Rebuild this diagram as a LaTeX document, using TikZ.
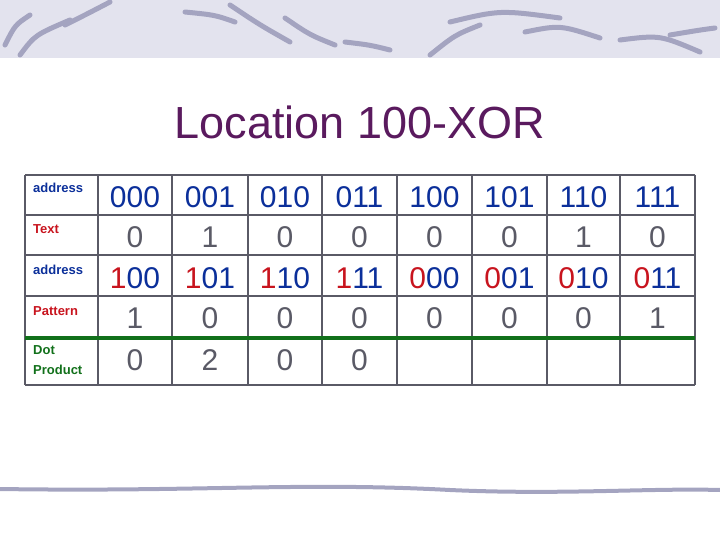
\documentclass[tikz,border=0pt]{standalone}
\usepackage{fontspec}
\setmainfont{Liberation Sans}
\definecolor{band}{HTML}{E3E3EE}
\definecolor{brushc}{HTML}{A4A4C0}
\definecolor{titlec}{HTML}{5A1A5E}
\definecolor{addrc}{HTML}{0B2F9A}
\definecolor{redc}{HTML}{C8141E}
\definecolor{greenc}{HTML}{11701A}
\definecolor{gridc}{HTML}{5A5A66}
\newcommand{\hi}[1]{\textcolor{redc}{#1}}
\begin{document}
\begin{tikzpicture}[x=1pt,y=-1pt,
    label/.style={anchor=north west, font=\fontsize{13}{15}\selectfont\bfseries, inner sep=0pt, align=left},
    cell/.style={font=\fontsize{30}{32}\selectfont, text=gridc, inner sep=0pt},
    brush/.style={draw=brushc, line width=5pt, line cap=round}]
        \useasboundingbox (0,0) rectangle (720,540);

        % Header band and brush strokes
        \fill[band] (0,0) rectangle (720,58);
        \draw[brush] (5,45) .. controls (15,25) .. (30,15);
        \draw[brush] (20,55) .. controls (35,35) .. (70,20);
        \draw[brush] (65,25) .. controls (85,15) .. (110,2);
        \draw[brush] (185,12) .. controls (215,15) .. (235,22);
        \draw[brush] (230,5) .. controls (260,25) .. (290,42);
        \draw[brush] (285,18) .. controls (310,35) .. (335,45);
        \draw[brush] (345,42) .. controls (370,45) .. (390,50);
        \draw[brush] (430,55) .. controls (455,35) .. (480,25);
        \draw[brush] (450,22) .. controls (500,10) .. (560,18);
        \draw[brush] (525,32) .. controls (560,25) .. (600,38);
        \draw[brush] (620,40) .. controls (660,35) .. (700,52);
        \draw[brush] (670,35) .. controls (700,30) .. (715,28);

        % Footer stroke
        \draw[brushc, line width=4pt] (0,489) .. controls (200,492) and (300,482) .. (450,490)
              .. controls (560,495) and (650,488) .. (720,490);

        % Title
        \node[font=\fontsize{45}{50}\selectfont, text=titlec] (title) at (360,122) {Location 100-XOR};

        % Row labels
        \node[label, text=addrc] (l1) at (33,183) {address};
        \node[label, text=redc] (l2) at (33,224) {Text};
        \node[label, text=addrc] (l3) at (33,265) {address};
        \node[label, text=redc] (l4) at (33,306) {Pattern};
        \node[label, text=greenc, font=\fontsize{13}{20}\selectfont\bfseries] (l5) at (33,345) {Dot\\Product};

        % Cells
        \foreach \x [count=\i] in {135,210,285,359.5,434.5,509.5,583.5,657.5}{
            \coordinate (col\i) at (\x,0);
        }
        \foreach \v [count=\i] in {000,001,010,011,100,101,110,111}
            \node[cell, text=addrc] (a\i) at (col\i |- 0,197) {\v};
        \foreach \v [count=\i] in {0,1,0,0,0,0,1,0}
            \node[cell] (t\i) at (col\i |- 0,237) {\v};
        \foreach \v [count=\i] in {\hi{1}00,\hi{1}01,\hi{1}10,\hi{1}11,\hi{0}00,\hi{0}01,\hi{0}10,\hi{0}11}
            \node[cell, text=addrc] (b\i) at (col\i |- 0,278) {\v};
        \foreach \v [count=\i] in {1,0,0,0,0,0,0,1}
            \node[cell] (p\i) at (col\i |- 0,318) {\v};
        \foreach \v [count=\i] in {0,2,0,0}
            \node[cell] (d\i) at (col\i |- 0,360) {\v};

        % Grid
        \foreach \x in {25,98,172,248,322,397,472,547,620,695}
            \draw[gridc, line width=1.5pt] (\x,175) -- (\x,385);
        \foreach \y in {175,215,255,296,385}
            \draw[gridc, line width=1.5pt] (25,\y) -- (695,\y);
        \draw[greenc, line width=4pt] (25,338) -- (695,338);

    \end{tikzpicture}
\end{document}
